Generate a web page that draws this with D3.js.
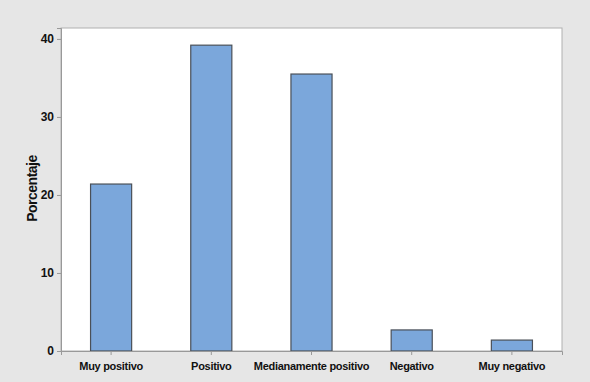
<!DOCTYPE html>
<html><head><meta charset="utf-8">
<script src="https://cdn.jsdelivr.net/npm/d3@7"></script>
<style>body{margin:0;background:#e6e6e6;}svg{display:block;}text{font-family:"Liberation Sans",Arial,sans-serif;font-weight:bold;fill:#111;}</style>
</head><body>
<svg id="c" width="590" height="382"></svg>
<script>
const categories = ["Muy positivo","Positivo","Medianamente positivo","Negativo","Muy negativo"];
const values = [21.4, 39.2, 35.5, 2.7, 1.4];
const yTicks = [0,10,20,30,40];
const yLabel = "Porcentaje";

const svg = d3.select("#c");
const W=590,H=382;
svg.append("rect").attr("width",W).attr("height",H).attr("fill","#e6e6e6");
const m = {l:61, r:28, t:28, b:31};
const iw = W-m.l-m.r, ih = H-m.t-m.b;
const g = svg.append("g").attr("transform",`translate(${m.l},${m.t})`);
g.append("rect").attr("width",iw).attr("height",ih).attr("fill","#fff").attr("stroke","#b0b0b0").attr("stroke-width",1);

const x = d3.scaleBand().domain(categories).range([0,iw]).paddingInner(0.59).paddingOuter(0.295);
const y = d3.scaleLinear().domain([0,41.4]).range([ih,0]);

g.selectAll(".bar").data(values).join("rect")
 .attr("x",(d,i)=>x(categories[i])).attr("width",x.bandwidth())
 .attr("y",d=>y(d)).attr("height",d=>ih-y(d))
 .attr("fill","#7ba7db").attr("stroke","#4a5058").attr("stroke-width",1.2);

const ya = g.append("g").call(d3.axisLeft(y).tickValues(yTicks).tickSize(4).tickPadding(3).tickFormat(d3.format("d")));
ya.select(".domain").attr("stroke","#999");
ya.selectAll(".tick line").attr("stroke","#999");
ya.selectAll(".tick text").style("font-size","12px").attr("fill","#111");

const xa = g.append("g").attr("transform",`translate(0,${ih})`).call(d3.axisBottom(x).tickSize(4).tickPadding(7));
xa.select(".domain").attr("stroke","#999");
xa.selectAll(".tick line").attr("stroke","#999");
xa.selectAll(".tick text").style("font-size","11px").style("letter-spacing","-0.3px").attr("fill","#111");

svg.append("text").attr("transform",`translate(37,${m.t+ih/2-1}) rotate(-90)`)
 .attr("text-anchor","middle").style("font-size","14px").style("letter-spacing","-0.5px").text(yLabel);
</script>
</body></html>
